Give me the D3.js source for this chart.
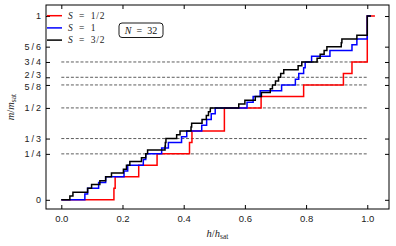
<!DOCTYPE html>
<html>
<head>
<meta charset="utf-8">
<script src="https://cdn.jsdelivr.net/npm/d3@7"></script>
<style>
  body { margin: 0; background: #fff; }
  svg { display: block; font-family: "Liberation Serif", "DejaVu Serif", serif; }
</style>
</head>
<body>
<svg id="chart" width="396" height="246"></svg>
<script>
const width = 396, height = 246;
const margin = { top: 5, right: 7, bottom: 37, left: 46 };

// Data: field h/h_sat where each step lands, m/m_sat after it
const redH = [0, 0.172, 0.176, 0.253, 0.313, 0.419, 0.427, 0.533, 0.653, 0.792, 0.922, 0.950, 1.0, 1.025];
const redM = [0, 1/16, 2/16, 3/16, 4/16, 5/16, 6/16, 8/16, 9/16, 10/16, 11/16, 12/16, 1, 1];

const blueH = [0, 0.077, 0.086, 0.122, 0.145, 0.205, 0.217, 0.268, 0.276, 0.328, 0.350,
  0.393, 0.410, 0.459, 0.475, 0.490, 0.503, 0.607, 0.627, 0.650, 0.720, 0.765, 0.776,
  0.792, 0.797, 0.818, 0.878, 0.950, 0.966, 1.0, 1.012];
const blueM = [0, 1/32, 2/32, 3/32, 4/32, 5/32, 6/32, 7/32, 8/32, 9/32, 10/32,
  11/32, 12/32, 13/32, 14/32, 15/32, 16/32, 17/32, 18/32, 19/32, 20/32, 21/32, 22/32,
  23/32, 24/32, 25/32, 26/32, 27/32, 28/32, 1, 1];

const blackH = [0, 0.028, 0.038, 0.086, 0.099, 0.126, 0.145, 0.164, 0.203, 0.213, 0.224,
  0.262, 0.276, 0.282, 0.339, 0.340, 0.342, 0.377, 0.388, 0.424, 0.426, 0.460, 0.474,
  0.481, 0.487, 0.580, 0.600, 0.634, 0.654, 0.683, 0.690, 0.700, 0.710, 0.717, 0.727,
  0.774, 0.786, 0.836, 0.846, 0.859, 0.868, 0.915, 0.917, 0.966, 1.0, 1.012];
const blackM = [0, 1/48, 2/48, 3/48, 4/48, 5/48, 6/48, 7/48, 8/48, 9/48, 10/48,
  11/48, 12/48, 13/48, 14/48, 15/48, 16/48, 17/48, 18/48, 19/48, 20/48, 21/48, 22/48,
  23/48, 24/48, 25/48, 26/48, 27/48, 28/48, 29/48, 30/48, 31/48, 32/48, 33/48, 34/48,
  35/48, 36/48, 37/48, 38/48, 39/48, 40/48, 41/48, 42/48, 43/48, 1, 1];

const seriesNames = ["1/2", "1", "3/2"];
const seriesColors = ["#ff0000", "#0000ff", "#000000"];

const plateaus = [1/4, 1/3, 1/2, 5/8, 2/3, 3/4];
const yTicks = [0, 1/4, 1/3, 1/2, 5/8, 2/3, 3/4, 5/6, 1];
const yTickLabels = ["0", "1/4", "1/3", "1/2", "5/8", "2/3", "3/4", "5/6", "1"];
const xTicks = [0, 0.2, 0.4, 0.6, 0.8, 1.0];

const series = [
  { name: seriesNames[0], color: seriesColors[0], pts: d3.zip(redH, redM) },
  { name: seriesNames[1], color: seriesColors[1], pts: d3.zip(blueH, blueM) },
  { name: seriesNames[2], color: seriesColors[2], pts: d3.zip(blackH, blackM) },
];

const svg = d3.select("#chart");

const x = d3.scaleLinear().domain([-0.05, 1.071]).range([margin.left, width - margin.right]);
const y = d3.scaleLinear().domain([-0.05, 1.06]).range([height - margin.bottom, margin.top]);

// plateau guides
svg.append("g")
  .selectAll("line")
  .data(plateaus)
  .join("line")
  .attr("x1", x(0)).attr("x2", x(1))
  .attr("y1", d => y(d)).attr("y2", d => y(d))
  .attr("stroke", "#333")
  .attr("stroke-width", 0.8)
  .attr("stroke-dasharray", "3,1.8");

// staircases
const line = d3.line()
  .x(d => x(d[0]))
  .y(d => y(d[1]))
  .curve(d3.curveStepAfter);

svg.append("g")
  .selectAll("path")
  .data(series)
  .join("path")
  .attr("d", d => line(d.pts))
  .attr("fill", "none")
  .attr("stroke", d => d.color)
  .attr("stroke-width", 1.5)
  .attr("stroke-linejoin", "miter");

// axes, ticks pointing inward on all sides
const x0 = margin.left, x1 = width - margin.right;
const y0 = height - margin.bottom, y1 = margin.top;

function styleAxis(g) {
  g.select(".domain").remove();
  g.selectAll(".tick line").attr("stroke", "#000").attr("stroke-width", 1);
  g.selectAll("text").attr("font-size", 9.5).attr("fill", "#222").attr("font-family", null);
}

svg.append("g")
  .attr("transform", `translate(0,${y0})`)
  .call(d3.axisBottom(x).tickValues(xTicks).tickFormat(d3.format(".1f")).tickSize(-4).tickPadding(6))
  .call(styleAxis);

svg.append("g")
  .attr("transform", `translate(0,${y1})`)
  .call(d3.axisTop(x).tickValues(xTicks).tickFormat("").tickSize(-4))
  .call(styleAxis);

svg.append("g")
  .attr("transform", `translate(${x0},0)`)
  .call(d3.axisLeft(y).tickValues(yTicks).tickFormat((d, i) => yTickLabels[i]).tickSize(-4).tickPadding(3))
  .call(styleAxis)
  .call(g => g.selectAll("text")
    .attr("font-size", 9)
    .attr("letter-spacing", 2)
    // 2/3 and 5/8 sit very close; nudge them apart a little
    .attr("dy", (d, i) => yTickLabels[i] === "2/3" ? "0.05em" : yTickLabels[i] === "5/8" ? "0.45em" : "0.32em"));

svg.append("g")
  .attr("transform", `translate(${x1},0)`)
  .call(d3.axisRight(y).tickValues(yTicks).tickFormat("").tickSize(-4))
  .call(styleAxis);

svg.append("rect")
  .attr("x", x0).attr("y", y1)
  .attr("width", x1 - x0).attr("height", y0 - y1)
  .attr("fill", "none")
  .attr("stroke", "#000")
  .attr("stroke-width", 1);

// axis labels
const xl = svg.append("text")
  .attr("x", (x0 + x1) / 2)
  .attr("y", 237)
  .attr("text-anchor", "middle")
  .attr("font-size", 10.5)
  .attr("fill", "#222");
xl.append("tspan").attr("font-style", "italic").text("h");
xl.append("tspan").text("/");
xl.append("tspan").attr("font-style", "italic").text("h");
xl.append("tspan").attr("font-size", 7.5).attr("dy", 2).text("sat");

const yl = svg.append("text")
  .attr("transform", `translate(14,${(y0 + y1) / 2}) rotate(-90)`)
  .attr("text-anchor", "middle")
  .attr("font-size", 10.5)
  .attr("fill", "#222");
yl.append("tspan").attr("font-style", "italic").text("m");
yl.append("tspan").text("/");
yl.append("tspan").attr("font-style", "italic").text("m");
yl.append("tspan").attr("font-size", 7.5).attr("dy", 2).text("sat");

// legend
const legend = svg.append("g")
  .selectAll("g")
  .data(series)
  .join("g")
  .attr("transform", (d, i) => `translate(47,${15.7 + i * 12.2})`);

legend.append("line")
  .attr("x1", 0).attr("x2", 15)
  .attr("stroke", d => d.color)
  .attr("stroke-width", 1.5);

const lt = legend.append("text")
  .attr("x", 21)
  .attr("y", 3.2)
  .attr("font-size", 9.5)
  .attr("fill", "#222")
  .attr("letter-spacing", 0.8);
lt.append("tspan").attr("font-style", "italic").text("S");
lt.append("tspan").text(d => "\u2002=\u2002" + d.name);

// N = 32 box
svg.append("rect")
  .attr("x", 119).attr("y", 23)
  .attr("width", 44).attr("height", 14.5)
  .attr("rx", 3)
  .attr("fill", "#fff")
  .attr("stroke", "#000")
  .attr("stroke-width", 0.9);

const nt = svg.append("text")
  .attr("x", 141).attr("y", 33.8)
  .attr("text-anchor", "middle")
  .attr("font-size", 10)
  .attr("fill", "#111");
nt.append("tspan").attr("font-style", "italic").text("N");
nt.append("tspan").text("\u2002=\u200232");
</script>
</body>
</html>
